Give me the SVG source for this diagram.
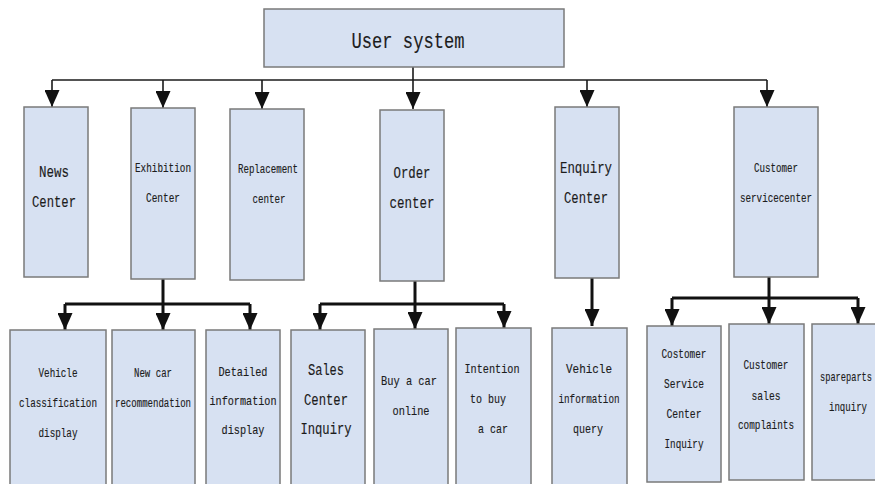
<svg xmlns="http://www.w3.org/2000/svg" width="875" height="484" viewBox="0 0 875 484">
<style>
.box{fill:#d7e1f2;stroke:#7a7a7a;stroke-width:1.5}
text{font-family:"Liberation Mono","DejaVu Sans Mono",monospace;text-anchor:middle;fill:#1c1c1c;stroke:#1c1c1c;stroke-width:0.15}
.t22{font-size:22px}
.t16{font-size:16px}
.t13{font-size:13px}
.t12{font-size:12px}
.thin{fill:none;stroke:#1a1a1a;stroke-width:1.6}
.thick{fill:none;stroke:#111;stroke-width:3}
</style>
<defs>
<marker id="arr" markerUnits="userSpaceOnUse" markerWidth="17" markerHeight="15" refX="17" refY="7.5" orient="auto">
<path d="M0,0 L17,7.5 L0,15 z" fill="#111"/>
</marker>
</defs>
<rect width="875" height="484" fill="#ffffff"/>
<g id="connectors">
<path class="thin" d="M52,80 H767"/>
<path class="thin" d="M413,67 V109" marker-end="url(#arr)"/>
<path class="thin" d="M52,80 V107" marker-end="url(#arr)"/>
<path class="thin" d="M163,80 V108" marker-end="url(#arr)"/>
<path class="thin" d="M262,80 V109" marker-end="url(#arr)"/>
<path class="thin" d="M587,80 V107" marker-end="url(#arr)"/>
<path class="thin" d="M767,80 V107" marker-end="url(#arr)"/>
<path class="thick" d="M163,279 V304"/>
<path class="thick" d="M65,304 H250"/>
<path class="thick" d="M65,304 V330" marker-end="url(#arr)"/>
<path class="thick" d="M163,304 V330" marker-end="url(#arr)"/>
<path class="thick" d="M250,304 V330" marker-end="url(#arr)"/>
<path class="thick" d="M415,281 V304"/>
<path class="thick" d="M320,304 H504"/>
<path class="thick" d="M320,304 V330" marker-end="url(#arr)"/>
<path class="thick" d="M415,304 V329" marker-end="url(#arr)"/>
<path class="thick" d="M504,304 V328" marker-end="url(#arr)"/>
<path class="thick" d="M592,278 V326" marker-end="url(#arr)"/>
<path class="thick" d="M769,277 V298"/>
<path class="thick" d="M672,298 H858"/>
<path class="thick" d="M672,298 V326" marker-end="url(#arr)"/>
<path class="thick" d="M769,298 V324" marker-end="url(#arr)"/>
<path class="thick" d="M858,298 V324" marker-end="url(#arr)"/>
</g>
<g id="user-system"><rect class="box" x="264" y="9" width="300" height="58"/><text class="t22" x="408" y="48" textLength="113" lengthAdjust="spacingAndGlyphs">User system</text></g>
<g id="news-center"><rect class="box" x="24" y="107" width="64" height="170"/><text class="t16" x="54" y="177" textLength="30" lengthAdjust="spacingAndGlyphs">News</text><text class="t16" x="54" y="207" textLength="44" lengthAdjust="spacingAndGlyphs">Center</text></g>
<g id="exhibition-center"><rect class="box" x="131" y="108" width="64" height="171"/><text class="t12" x="163" y="172" textLength="56" lengthAdjust="spacingAndGlyphs">Exhibition</text><text class="t12" x="163" y="202" textLength="34" lengthAdjust="spacingAndGlyphs">Center</text></g>
<g id="replacement-center"><rect class="box" x="230" y="109" width="74" height="171"/><text class="t12" x="268" y="173" textLength="60" lengthAdjust="spacingAndGlyphs">Replacement</text><text class="t12" x="269" y="203" textLength="33" lengthAdjust="spacingAndGlyphs">center</text></g>
<g id="order-center"><rect class="box" x="380" y="110" width="64" height="171"/><text class="t16" x="412" y="178" textLength="37" lengthAdjust="spacingAndGlyphs">Order</text><text class="t16" x="412" y="208" textLength="45" lengthAdjust="spacingAndGlyphs">center</text></g>
<g id="enquiry-center"><rect class="box" x="555" y="107" width="64" height="171"/><text class="t16" x="586" y="173" textLength="52" lengthAdjust="spacingAndGlyphs">Enquiry</text><text class="t16" x="586" y="203" textLength="44" lengthAdjust="spacingAndGlyphs">Center</text></g>
<g id="customer-servicecenter"><rect class="box" x="734" y="107" width="84" height="170"/><text class="t12" x="776" y="172" textLength="44" lengthAdjust="spacingAndGlyphs">Customer</text><text class="t12" x="776" y="202" textLength="72" lengthAdjust="spacingAndGlyphs">servicecenter</text></g>
<g id="vehicle-classification"><rect class="box" x="10" y="330" width="96" height="160"/><text class="t12" x="58" y="377" textLength="39" lengthAdjust="spacingAndGlyphs">Vehicle</text><text class="t12" x="58" y="407" textLength="78" lengthAdjust="spacingAndGlyphs">classification</text><text class="t12" x="58" y="437" textLength="39" lengthAdjust="spacingAndGlyphs">display</text></g>
<g id="new-car"><rect class="box" x="112" y="330" width="83" height="160"/><text class="t12" x="153" y="377" textLength="38" lengthAdjust="spacingAndGlyphs">New car</text><text class="t12" x="153" y="407" textLength="76" lengthAdjust="spacingAndGlyphs">recommendation</text></g>
<g id="detailed-info"><rect class="box" x="206" y="330" width="74" height="160"/><text class="t13" x="243" y="376" textLength="49" lengthAdjust="spacingAndGlyphs">Detailed</text><text class="t13" x="243" y="405" textLength="67" lengthAdjust="spacingAndGlyphs">information</text><text class="t13" x="243" y="434" textLength="43" lengthAdjust="spacingAndGlyphs">display</text></g>
<g id="sales-center"><rect class="box" x="291" y="330" width="74" height="160"/><text class="t16" x="326" y="375" textLength="36" lengthAdjust="spacingAndGlyphs">Sales</text><text class="t16" x="326" y="405" textLength="44" lengthAdjust="spacingAndGlyphs">Center</text><text class="t16" x="326" y="434" textLength="51" lengthAdjust="spacingAndGlyphs">Inquiry</text></g>
<g id="buy-online"><rect class="box" x="374" y="329" width="74" height="161"/><text class="t13" x="409" y="385" textLength="56" lengthAdjust="spacingAndGlyphs">Buy a car</text><text class="t13" x="411" y="415" textLength="37" lengthAdjust="spacingAndGlyphs">online</text></g>
<g id="intention"><rect class="box" x="456" y="328" width="75" height="162"/><text class="t13" x="492" y="373" textLength="55" lengthAdjust="spacingAndGlyphs">Intention</text><text class="t13" x="488" y="403" textLength="36" lengthAdjust="spacingAndGlyphs">to buy</text><text class="t13" x="493" y="433" textLength="30" lengthAdjust="spacingAndGlyphs">a car</text></g>
<g id="vehicle-query"><rect class="box" x="552" y="328" width="75" height="162"/><text class="t13" x="589" y="373" textLength="46" lengthAdjust="spacingAndGlyphs">Vehicle</text><text class="t13" x="589" y="403" textLength="61" lengthAdjust="spacingAndGlyphs">information</text><text class="t13" x="588" y="433" textLength="30" lengthAdjust="spacingAndGlyphs">query</text></g>
<g id="costomer-service"><rect class="box" x="647" y="326" width="74" height="156"/><text class="t13" x="684" y="358" textLength="45" lengthAdjust="spacingAndGlyphs">Costomer</text><text class="t13" x="684" y="388" textLength="40" lengthAdjust="spacingAndGlyphs">Service</text><text class="t13" x="684" y="418" textLength="35" lengthAdjust="spacingAndGlyphs">Center</text><text class="t13" x="684" y="448" textLength="39" lengthAdjust="spacingAndGlyphs">Inquiry</text></g>
<g id="customer-sales"><rect class="box" x="729" y="324" width="75" height="156"/><text class="t13" x="766" y="369" textLength="45" lengthAdjust="spacingAndGlyphs">Customer</text><text class="t13" x="766" y="400" textLength="29" lengthAdjust="spacingAndGlyphs">sales</text><text class="t13" x="766" y="429" textLength="56" lengthAdjust="spacingAndGlyphs">complaints</text></g>
<g id="spareparts"><rect class="box" x="812" y="324" width="75" height="156"/><text class="t13" x="846" y="381" textLength="52" lengthAdjust="spacingAndGlyphs">spareparts</text><text class="t13" x="848" y="411" textLength="38" lengthAdjust="spacingAndGlyphs">inquiry</text></g>
</svg>
